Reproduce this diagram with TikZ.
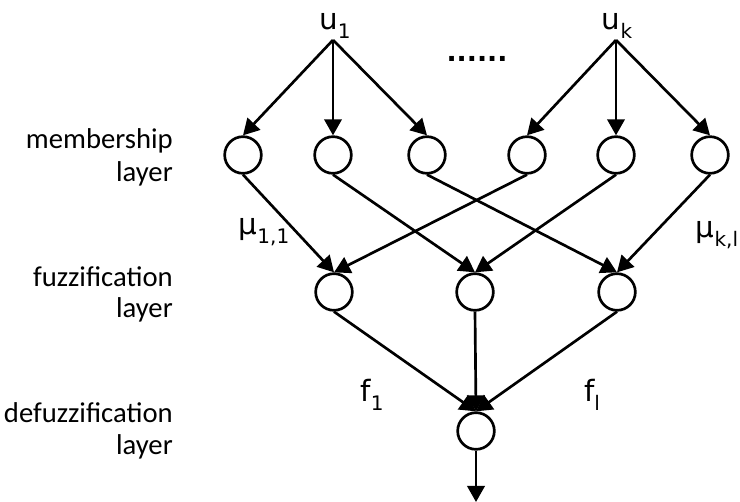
\documentclass[tikz,border=0pt]{standalone}
\usepackage{fontspec}
\usetikzlibrary{arrows.meta}
\newfontfamily\labfont{Carlito}
\newfontfamily\symfont{DejaVu Sans}
\newcommand\lowsub[1]{\raisebox{-6.5pt}{\fontsize{15}{17}\selectfont #1}}
\begin{document}
\begin{tikzpicture}[x=0.75pt,y=-0.75pt,
  unit/.style={circle,draw,line width=2pt,minimum size=27.5pt,inner sep=0pt},
  conn/.style={line width=2pt,-{Triangle[length=12pt,width=13pt]}},
  lab/.style={font=\labfont\fontsize{21.5}{25}\selectfont,anchor=base east,inner sep=0pt},
  sym/.style={font=\symfont\fontsize{22}{26}\selectfont,anchor=base,inner sep=0pt}]
\useasboundingbox (0,0) rectangle (740,502);
% inputs
\node[sym] (u1) at (335,30) {u\lowsub{1}};
\node[sym] (uk) at (617,30) {u\lowsub{k}};
\coordinate (s1) at (333,40);
\coordinate (sk) at (616,40);
\node[sym,font=\symfont\bfseries\fontsize{20}{24}\selectfont] (dots) at (477,62) {......};
% membership layer
\node[unit] (m1) at (243,155) {};
\node[unit] (m2) at (333,155) {};
\node[unit] (m3) at (427,155) {};
\node[unit] (m4) at (527,155) {};
\node[unit] (m5) at (616,155) {};
\node[unit] (m6) at (710,155) {};
% fuzzification layer
\node[unit] (f1) at (334,292) {};
\node[unit] (f2) at (475,292) {};
\node[unit] (f3) at (617,292) {};
% defuzzification
\node[unit] (d) at (476,431) {};
\coordinate (out) at (476,502);
% layer labels
\node[lab] (l1a) at (173,149) {membership};
\node[lab] (l1b) at (173,182) {layer};
\node[lab] (l2a) at (173,287) {fuzzification};
\node[lab] (l2b) at (173,318) {layer};
\node[lab] (l3a) at (173,423) {defuzzification};
\node[lab] (l3b) at (173,455) {layer};
% edge labels
\node[sym] (mu11) at (264,235) {μ\lowsub{1,1}};
\node[sym] (mukl) at (717,238) {μ\lowsub{k,l}};
\node[sym] (fa) at (372,402) {f\lowsub{1}};
\node[sym] (fb) at (592,402) {f\lowsub{l}};
% connectors
\foreach \m in {m1,m2,m3} \draw[conn] (s1) -- (\m.north);
\foreach \m in {m4,m5,m6} \draw[conn] (sk) -- (\m.north);
\draw[conn] (m1.south) -- (f1.north);
\draw[conn] (m4.south) -- (f1.north);
\draw[conn] (m2.south) -- (f2.north);
\draw[conn] (m5.south) -- (f2.north);
\draw[conn] (m3.south) -- (f3.north);
\draw[conn] (m6.south) -- (f3.north);
\foreach \f in {f1,f2,f3} \draw[conn] (\f.south) -- (d.north);
\draw[conn] (d.south) -- (out);
\end{tikzpicture}
\end{document}
